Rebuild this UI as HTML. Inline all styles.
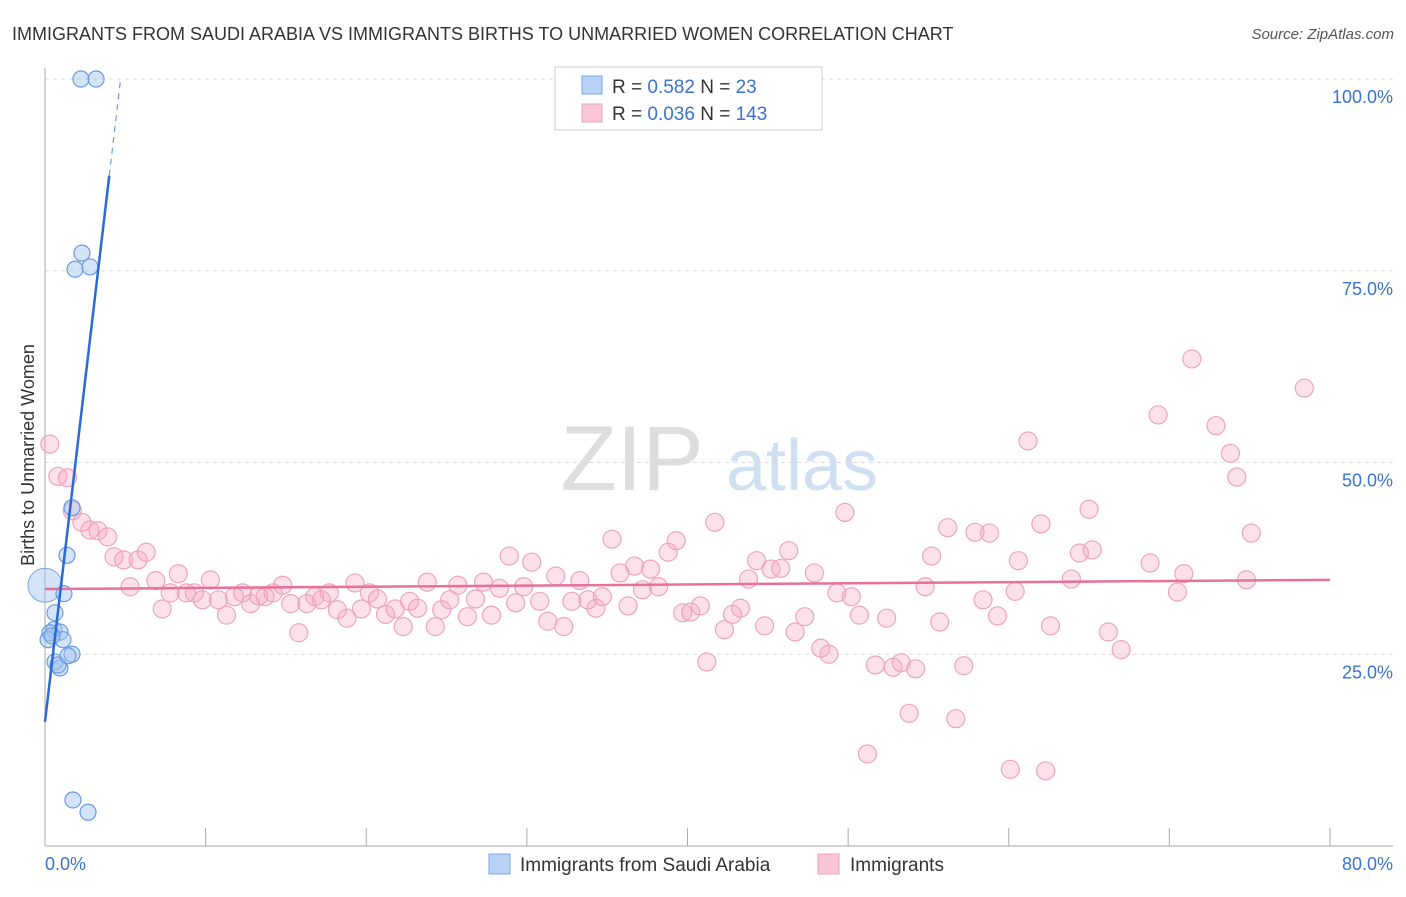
<!DOCTYPE html>
<html><head><meta charset="utf-8"><style>
body{margin:0;background:#fff;font-family:"Liberation Sans",sans-serif}
svg text{font-family:"Liberation Sans",sans-serif}
</style></head><body>
<svg id="chart" width="1406" height="892" xmlns="http://www.w3.org/2000/svg">
<text x="12" y="40" font-size="18" fill="#333">IMMIGRANTS FROM SAUDI ARABIA VS IMMIGRANTS BIRTHS TO UNMARRIED WOMEN CORRELATION CHART</text>
<text x="1394" y="39" font-size="15" fill="#555" text-anchor="end" font-style="italic">Source: ZipAtlas.com</text>
<g>
<text x="632" y="490" font-size="92" fill="#ddd" font-family="Liberation Serif" text-anchor="middle">ZIP</text>
<text x="802" y="490" font-size="72" fill="#cfe0f3" text-anchor="middle">atlas</text>
</g>
<g id="grid"></g>
<g id="axes"></g>
<g id="pts"></g>
<g id="lines"></g>
<text transform="translate(34,455) rotate(-90)" font-size="18" fill="#333" text-anchor="middle">Births to Unmarried Women</text>
<g>
<rect x="555" y="67" width="267" height="63" fill="#fff" stroke="#ccc"/>
<rect x="582" y="76" width="20" height="18" fill="#b8d2f5" stroke="#7aa7e6"/>
<rect x="582" y="104" width="20" height="18" fill="#f9c6d6" stroke="#eba2bb"/>
<text x="612" y="93" font-size="19" fill="#333">R = <tspan fill="#3a73d0">0.582</tspan>    N =   <tspan fill="#3a73d0">23</tspan></text>
<text x="612" y="120" font-size="19" fill="#333">R = <tspan fill="#3a73d0">0.036</tspan>    N = <tspan fill="#3a73d0">143</tspan></text>
</g>
<g>
<rect x="489" y="854" width="21" height="20" fill="#b8d2f5" stroke="#7aa7e6"/>
<text x="520" y="871" font-size="19" fill="#333">Immigrants from Saudi Arabia</text>
<rect x="818" y="854" width="21" height="20" fill="#f9c6d6" stroke="#eba2bb"/>
<text x="850" y="871" font-size="19" fill="#333">Immigrants</text>
</g>
</svg>
<script>
const blueX=[2.24,3.18,2.30,1.87,2.80,1.68,1.37,1.18,0.62,0.56,0.93,0.31,0.19,1.12,0.62,0.93,0.81,1.68,1.43,1.74,2.68,0.44];
const blueY=[100,100,77.3,75.2,75.5,44.1,37.9,32.9,30.4,28.2,27.9,27.8,26.9,26.9,24.0,23.2,23.6,25.0,24.8,6.0,4.4,27.4];
const pinkX=[0.3,0.8,1.4,1.7,2.3,2.8,3.3,3.9,4.3,4.9,5.3,5.8,6.3,6.9,7.3,7.8,8.3,8.8,9.3,9.8,10.3,10.8,11.3,11.8,12.3,12.8,13.3,13.7,14.2,14.8,15.3,15.8,16.3,16.8,17.2,17.7,18.2,18.8,19.3,19.7,20.2,20.7,21.2,21.8,22.3,22.7,23.2,23.8,24.3,24.7,25.2,25.7,26.3,26.8,27.3,27.8,28.3,28.9,29.3,29.8,30.3,30.8,31.3,31.8,32.3,32.8,33.3,33.8,34.3,34.7,35.3,35.8,36.3,36.7,37.2,37.7,38.2,38.8,39.3,39.7,40.2,40.8,41.2,41.7,42.3,42.8,43.3,43.8,44.3,44.8,45.2,45.8,46.3,46.7,47.3,47.9,48.3,48.8,49.3,49.8,50.2,50.7,51.2,51.7,52.4,52.8,53.3,53.8,54.2,54.8,55.2,55.7,56.2,56.7,57.2,57.9,58.4,58.8,59.3,60.1,60.4,60.6,61.2,62.0,62.6,62.3,63.9,64.4,65.0,65.2,66.2,67.0,68.8,69.3,70.5,70.9,71.4,72.9,73.8,74.2,74.8,75.1,78.4];
const pinkY=[52.4,48.2,48.0,43.7,42.2,41.2,41.1,40.3,37.7,37.3,33.8,37.3,38.3,34.6,30.9,33.0,35.5,33.0,33.0,32.1,34.7,32.1,30.1,32.5,33.0,31.6,32.6,32.5,33.0,34.0,31.6,27.8,31.6,32.5,32.1,33.0,30.8,29.7,34.3,30.9,33.0,32.2,30.2,30.9,28.6,31.9,31.0,34.4,28.6,30.8,32.1,34.0,29.9,32.2,34.4,30.1,33.6,37.8,31.7,33.8,37.0,31.9,29.3,35.2,28.6,31.9,34.6,32.1,31.0,32.5,40.0,35.6,31.3,36.5,33.4,36.1,33.8,38.3,39.8,30.4,30.5,31.3,24.0,42.2,28.2,30.2,31.0,34.8,37.2,28.7,36.1,36.2,38.5,27.9,29.9,35.6,25.8,25.0,33.0,43.5,32.5,30.1,12.0,23.6,29.7,23.3,23.9,17.3,23.1,33.8,37.8,29.2,41.5,16.6,23.5,40.9,32.1,40.8,30.0,10.0,33.2,37.2,52.8,42.0,28.7,9.8,34.8,38.2,43.9,38.6,27.9,25.6,36.9,56.2,33.1,35.5,63.5,54.8,51.2,48.1,34.7,40.8,59.7];
const yTicks=[25,50,75,100];
const yTickLabels=["25.0%","50.0%","75.0%","100.0%"];
const xTicks=[0,10,20,30,40,50,60,70,80];
const pinkTrend=[33.5,34.7];
const blueTrend=[16.2,17.8];
const NS="http://www.w3.org/2000/svg";
const X=v=>45+v*(1285/80), Y=v=>846-v*7.67;
function mk(t,a,p){const e=document.createElementNS(NS,t);for(const k in a)e.setAttribute(k,a[k]);document.getElementById(p).appendChild(e);return e;}
yTicks.forEach((t,i)=>{
 const l=mk('line',{x1:45,x2:1393,y1:Y(t),y2:Y(t),stroke:'#ddd','stroke-dasharray':'4,4'},'grid');
 
 
 const tx=mk('text',{x:1393,y:Y(t)+24,'font-size':18,fill:'#3a73d0','text-anchor':'end'},'grid');
 tx.textContent=yTickLabels[i];
 
 
});
mk('line',{x1:45,x2:45,y1:68,y2:846,stroke:'#aaa'},'axes');
mk('line',{x1:45,x2:1393,y1:846,y2:846,stroke:'#aaa'},'axes');
xTicks.forEach(t=>{const l=mk('line',{x1:X(t),x2:X(t),y1:828,y2:846,stroke:'#aaa'},'axes');
 
 });
let a=mk('text',{x:45,y:870,'font-size':18,fill:'#3a73d0'},'axes');a.textContent='0.0%';
let b=mk('text',{x:1393,y:870,'font-size':18,fill:'#3a73d0','text-anchor':'end'},'axes');b.textContent='80.0%';
pinkX.forEach((x,i)=>{const c=mk('circle',{cx:X(x),cy:Y(pinkY[i]),r:9,fill:'rgba(245,170,196,0.35)',stroke:'#eca4bd','stroke-width':1.2},'pts');
 
 });
const big=mk('circle',{cx:X(0),cy:Y(34),r:17,fill:'rgba(160,195,240,0.45)',stroke:'#7aa7e6'},'pts');


blueX.forEach((x,i)=>{const c=mk('circle',{cx:X(x),cy:Y(blueY[i]),r:8,fill:'rgba(160,195,240,0.45)',stroke:'#6a9be0','stroke-width':1.2},'pts');
 
 });
const pl=mk('line',{x1:X(0),y1:Y(pinkTrend[0]),x2:X(80),y2:Y(pinkTrend[1]),stroke:'#e8709a','stroke-width':2.5},'lines');


const bl=mk('line',{x1:X(0),y1:Y(blueTrend[0]),x2:X(4),y2:Y(blueTrend[0]+blueTrend[1]*4),stroke:'#2a6ad8','stroke-width':2.5},'lines');


const bd=mk('line',{x1:X(4),y1:Y(blueTrend[0]+blueTrend[1]*4),x2:X(4.7),y2:Y(blueTrend[0]+blueTrend[1]*4.7),stroke:'#6a9be0','stroke-width':1.2,'stroke-dasharray':'6,5'},'lines');


</script>
</body></html>
